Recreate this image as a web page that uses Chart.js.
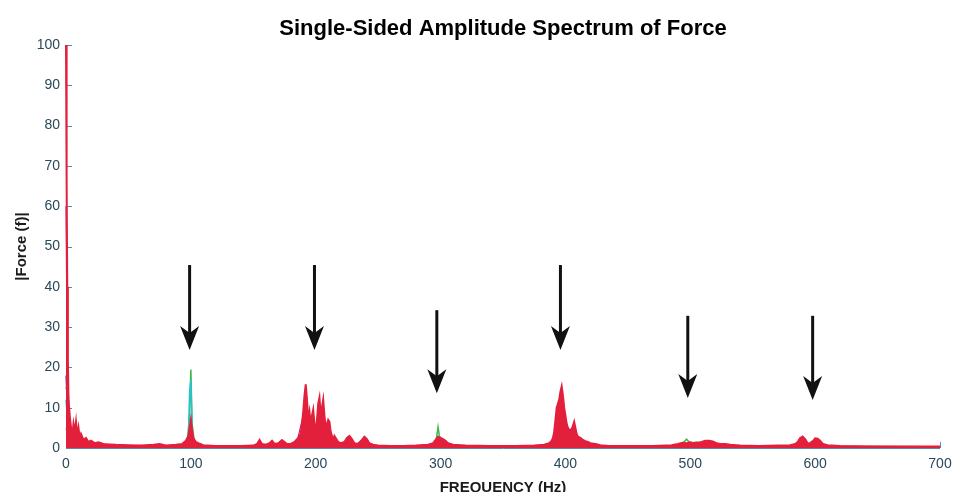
<!DOCTYPE html>
<html>
<head>
<meta charset="utf-8">
<script src="https://cdn.jsdelivr.net/npm/chart.js@4.4.1/dist/chart.umd.min.js"></script>
<style>
  html, body { margin: 0; padding: 0; background: #ffffff; }
  #wrap { position: relative; width: 953px; height: 492px; }
</style>
</head>
<body>
<div id="wrap"><canvas id="c" width="953" height="492"></canvas></div>
<script>
// ---- Data ----
const chartTitle = 'Single-Sided Amplitude Spectrum of Force';
const xAxisTitle = 'FREQUENCY (Hz)';
const yAxisTitle = '|Force (f)|';
const xTicks = [0, 100, 200, 300, 400, 500, 600, 700];
const yTicks = [0, 10, 20, 30, 40, 50, 60, 70, 80, 90, 100];

// [frequency Hz, amplitude]
const redSpectrum = [
  [0,100],[0.5,66],[1,40],[1.5,22],[2,12],[3,8],[4,5],[5,3],[6,6],[7,4],[8,6.5],[9,3],[10,5],[11,2.5],[12,3.5],
  [14,2],[16,2.5],[18,1.5],[20,1.8],[23,1.2],[26,1.4],[30,1],[35,0.9],[40,0.8],[50,0.7],[60,0.6],[70,0.8],[75,1],
  [80,0.6],[88,0.8],[93,1],[96,1.8],[98,3],[99,5],[100,7],[101,4.5],[102,2.5],[104,1.5],[106,1.2],[110,0.7],
  [120,0.5],[130,0.5],[140,0.5],[150,0.6],[153,1],[155,2],[157,1],[160,0.8],[163,1.2],[165,1.8],[167,1],[170,1.2],
  [173,2],[175,1.5],[177,1],[180,1],[183,1.5],[186,2.5],[188,3.5],[189,6],[190,9],[191,13],[192,15.8],[193,12],
  [194,7],[195,9],[196,6],[197,8],[198,9.5],[199,6],[200,4],[201,7],[202,11],[203,12.5],[204,8],[205,10],[206,12],
  [207,8],[208,5],[209,6],[210,7],[211,6.5],[212,4],[213,3],[214,2],[215,3],[216,2.5],[218,1.5],[220,1.2],[223,1.5],
  [225,2.5],[227,3],[229,2.2],[231,1.2],[234,1],[237,2],[239,2.8],[241,2.2],[243,1.2],[246,0.8],[250,0.6],[260,0.5],
  [270,0.5],[280,0.6],[290,0.8],[294,1.2],[296,2],[298,2.8],[300,2.5],[302,2.2],[304,1.8],[306,1.2],[310,0.8],
  [320,0.6],[340,0.5],[360,0.5],[375,0.6],[383,0.8],[387,1.2],[389,1.8],[390,2.5],[391,4],[392,7],[393,10],[394,11],
  [395,12],[396,14],[397,15.3],[398,13],[399,10],[400,8],[401,6],[402,5],[403,4.5],[404,4],[405,4.5],[406,5.5],
  [407,6.5],[408,5],[409,3.5],[410,2.8],[412,2.5],[414,2],[416,1.7],[418,1.5],[420,1.2],[424,1],[428,0.7],[435,0.5],
  [450,0.5],[470,0.5],[485,0.7],[490,1],[494,1.3],[497,1.2],[500,1.4],[503,1.2],[506,1.3],[509,1.5],[512,1.8],
  [515,1.8],[518,1.6],[521,1.2],[524,1],[528,1],[532,0.8],[540,0.6],[555,0.5],[570,0.6],[580,0.7],[584,1],[586,1.5],
  [588,2.5],[590,2.8],[592,2.2],[594,1.2],[596,0.9],[598,1.6],[600,2.4],[602,2.3],[604,1.8],[606,1],[610,0.7],
  [620,0.5],[640,0.4],[660,0.4],[680,0.4],[700,0.4]
];
const magentaSpectrum = [
  [0,60],[1,20],[3,6],[6,4],[10,2],[20,1],[60,0.5],[95,0.5],[98,2],[100,5],[102,1.5],[110,0.5],[180,0.5],[185,1.5],
  [190,8],[192,14],[194,6],[197,7],[199,5],[201,6],[203,11],[205,9],[206,10.5],[208,4],[211,5],[214,2],[220,0.8],
  [227,2.5],[232,0.8],[239,2.3],[245,0.6],[250,0.5],[292,0.5],[298,2.2],[302,1.8],[310,0.6],[385,0.6],[390,2],
  [394,10],[397,14],[399,8],[402,4],[407,5.5],[410,2],[420,1],[430,0.5],[490,0.5],[500,1],[515,1.5],[530,0.6],
  [580,0.5],[586,1.2],[590,2.9],[594,1],[600,2.2],[604,1.5],[610,0.5],[700,0.3]
];
const greenSpectrum = [
  [0,15],[1,14],[2,8],[3,3],[5,1.5],[10,0.8],[30,0.5],[90,0.5],[97,1],[99,8],[100,19.5],[101,6],[103,1],[110,0.5],
  [190,0.5],[195,3],[200,2],[205,2.5],[210,1],[220,0.4],[250,0.4],[292,0.4],[296,1],[298,5.2],[299,3],[301,1.5],
  [305,0.6],[310,0.4],[385,0.4],[390,1],[395,4],[398,3],[402,3.5],[405,2],[410,0.8],[420,0.4],[488,0.4],[495,1.5],
  [497,2.2],[500,1.2],[505,1.5],[510,1],[520,0.5],[700,0.3]
];
const cyanSpectrum = [
  [0,12],[1,8],[3,2],[10,0.5],[95,0.5],[98,3],[99,14],[100,17],[101,4],[103,0.6],[120,0.3],[292,0.3],[296,0.8],
  [299,3],[302,0.8],[310,0.3],[390,0.3],[396,2],[400,3],[404,1.5],[410,0.3],[490,0.3],[500,0.8],[510,0.3],[700,0.3]
];
const blueSpectrum = [
  [0,18],[1,10],[2,7],[3,5],[5,3],[6,3.5],[8,2],[10,1],[20,0.6],[60,0.4],[95,0.5],[100,2],[105,0.4],[190,0.4],
  [200,1.5],[210,1.2],[220,0.4],[290,0.4],[300,0.8],[310,0.4],[390,0.4],[400,2.5],[405,1.5],[420,0.6],[430,0.4],
  [500,0.4],[515,1],[530,0.5],[580,0.4],[590,1.5],[600,0.4],[700,0.3]
];
const yellowSpectrum = [
  [0,5],[2,2],[10,0.4],[95,0.3],[99,1.5],[102,0.5],[110,0.2],[190,0.3],[196,2.5],[200,3],[204,1.5],[208,2.5],
  [212,0.8],[220,0.2],[290,0.3],[300,1],[305,0.2],[390,0.3],[394,2],[398,3.5],[402,1.5],[406,2.5],[410,0.6],
  [420,0.2],[700,0.2]
];

// arrows: [frequency, top amplitude, tip amplitude]
const arrowFreq = [99, 199, 297, 396, 498, 598];
const arrowTop  = [45.4, 45.4, 34.2, 45.4, 32.8, 32.8];
const arrowTip  = [24.3, 24.3, 13.6, 24.3, 12.4, 11.9];

// ---- Chart ----
const toXY = arr => arr.map(p => ({ x: p[0], y: p[1] }));
const axisColor = '#5b86b0';
const tickLabelColor = '#2b4859';

const axesAndArrows = {
  id: 'axesAndArrows',
  beforeDatasetsDraw(chart) {
    const { ctx, chartArea: a, scales: { x, y } } = chart;
    ctx.save();
    ctx.strokeStyle = axisColor;
    ctx.lineWidth = 1;
    ctx.beginPath();
    ctx.moveTo(a.left + 0.5, a.top);
    ctx.lineTo(a.left + 0.5, a.bottom + 0.5);
    ctx.lineTo(a.right, a.bottom + 0.5);
    ctx.stroke();
    ctx.beginPath();
    yTicks.forEach(v => {
      const py = Math.round(y.getPixelForValue(v)) + 0.5;
      ctx.moveTo(a.left, py); ctx.lineTo(a.left + 6, py);
    });
    xTicks.forEach(v => {
      const px = Math.round(x.getPixelForValue(v)) + 0.5;
      ctx.moveTo(px, a.bottom); ctx.lineTo(px, a.bottom - 6);
    });
    ctx.stroke();
    ctx.restore();
  },
  afterDraw(chart) {
    const { ctx, chartArea: a, scales: { x, y } } = chart;
    ctx.save();
    ctx.fillStyle = '#000000';
    ctx.font = 'bold 22px "Liberation Sans", Arial, sans-serif';
    ctx.textAlign = 'center';
    ctx.textBaseline = 'alphabetic';
    ctx.fillText(chartTitle, (a.left + a.right) / 2, 35);
    ctx.fillStyle = '#111111';
    ctx.strokeStyle = '#111111';
    arrowFreq.forEach((f, i) => {
      const px = x.getPixelForValue(f);
      const pTop = y.getPixelForValue(arrowTop[i]);
      const pTip = y.getPixelForValue(arrowTip[i]);
      ctx.lineWidth = 3;
      ctx.beginPath();
      ctx.moveTo(px, pTop);
      ctx.lineTo(px, pTip - 14);
      ctx.stroke();
      ctx.beginPath();
      ctx.moveTo(px, pTip);
      ctx.lineTo(px - 9.5, pTip - 24);
      ctx.lineTo(px, pTip - 17);
      ctx.lineTo(px + 9.5, pTip - 24);
      ctx.closePath();
      ctx.fill();
    });
    ctx.restore();
  }
};

const lineDs = (label, data, color, width, fill) => ({
  label, data: toXY(data), borderColor: color, backgroundColor: color,
  borderWidth: width, pointRadius: 0, tension: 0, fill: fill ? 'origin' : false, clip: 3
});

new Chart(document.getElementById('c'), {
  type: 'line',
  data: {
    datasets: [
      lineDs('red', redSpectrum, '#e3203c', 2, true),
      lineDs('magenta', magentaSpectrum, '#c81b78', 1.2, false),
      lineDs('yellow', yellowSpectrum, '#d8c21e', 1.2, false),
      lineDs('blue', blueSpectrum, '#2a3fb0', 1.2, false),
      lineDs('cyan', cyanSpectrum, '#27c4d0', 1.5, false),
      lineDs('green', greenSpectrum, '#3cb84a', 1.5, false)
    ]
  },
  options: {
    responsive: false,
    animation: false,
    events: [],
    layout: { padding: { left: 0, right: 13, top: 45, bottom: 0 } },
    plugins: {
      legend: { display: false },
      tooltip: { enabled: false },
      title: { display: false }
    },
    scales: {
      x: {
        type: 'linear', min: 0, max: 700,
        afterBuildTicks: s => { s.ticks = xTicks.map(v => ({ value: v })); },
        afterFit: s => { s.height = 44; s.paddingLeft = 0; s.paddingRight = 0; },
        grid: { display: false, drawTicks: false },
        border: { display: false },
        ticks: { color: tickLabelColor, padding: 8, maxRotation: 0,
                 font: { family: 'Liberation Sans, Arial, sans-serif', size: 14 } },
        title: { display: true, text: xAxisTitle, color: '#1a1a1a',
                 font: { family: 'Liberation Sans, Arial, sans-serif', size: 15, weight: 'bold', lineHeight: 0.6 },
                 padding: { top: 0, bottom: 0 } }
      },
      y: {
        type: 'linear', min: 0, max: 100,
        afterBuildTicks: s => { s.ticks = yTicks.map(v => ({ value: v })); },
        afterFit: s => { s.width = 66; s.paddingTop = 0; s.paddingBottom = 0; },
        grid: { display: false, drawTicks: false },
        border: { display: false },
        ticks: { color: tickLabelColor, padding: 6,
                 font: { family: 'Liberation Sans, Arial, sans-serif', size: 14 } },
        title: { display: true, text: yAxisTitle, color: '#1a1a1a',
                 font: { family: 'Liberation Sans, Arial, sans-serif', size: 15, weight: 'bold', lineHeight: 1.2 },
                 padding: { top: 13, bottom: 0 } }
      }
    }
  },
  plugins: [axesAndArrows]
});
</script>
</body>
</html>
